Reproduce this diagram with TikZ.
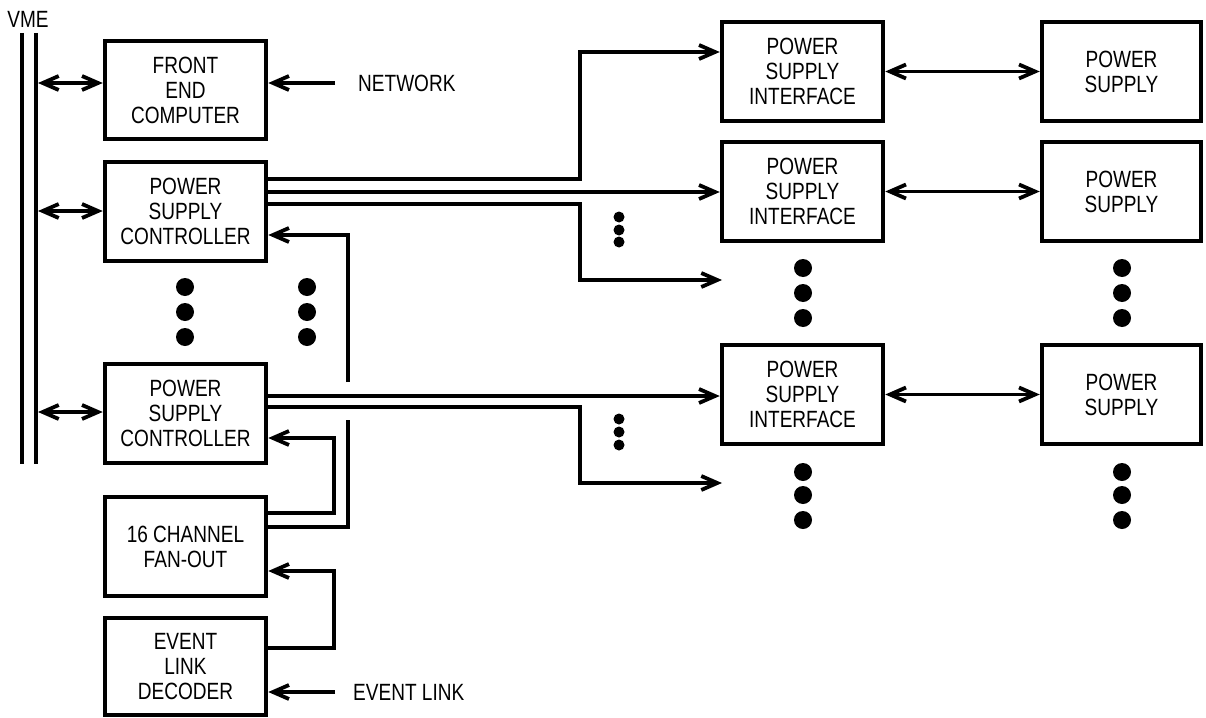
\documentclass[tikz,border=0pt]{standalone}
\usepackage{fontspec}
\setmainfont{Liberation Sans}[FakeStretch=0.81]
\usetikzlibrary{arrows.meta}
\tikzset{
  blk/.style={draw, line width=4.5pt, minimum width=161pt, minimum height=99pt, inner sep=0pt, align=center, font=\fontsize{23.5}{25}\selectfont},
  psblk/.style={blk, minimum width=159pt},
  lbl/.style={inner sep=0pt, anchor=west, font=\fontsize{23.5}{25}\selectfont},
  conn/.style={line width=3.8pt},
  bus/.style={line width=4.5pt},
  bigdot/.style={fill=black, draw=none},
  >={Straight Barb[length=16pt,width=14pt]}
}
\begin{document}
\begin{tikzpicture}[x=1pt,y=-1pt]
\useasboundingbox (0,0) rectangle (1206,717);
% VME bus
\node[lbl, anchor=center] (vme) at (28,19) {VME};
\coordinate (busLt) at (22,33); \coordinate (busLb) at (22,464);
\coordinate (busRt) at (36,33); \coordinate (busRb) at (36,464);
\draw[bus] (busLt) -- (busLb);
\draw[bus] (busRt) -- (busRb);
% left column
\node[blk, minimum height=98pt] (fec) at (185.5,90) {FRONT\\END\\COMPUTER};
\node[blk] (psc1) at (185.5,211.5) {POWER\\SUPPLY\\CONTROLLER};
\node[blk] (psc2) at (185.5,413.5) {POWER\\SUPPLY\\CONTROLLER};
\node[blk] (fan) at (185.5,546.5) {16 CHANNEL\\FAN-OUT};
\node[blk, minimum height=97pt] (eld) at (185.5,666.5) {EVENT\\LINK\\DECODER};
% right columns
\node[blk] (psi1) at (802.5,71.5) {POWER\\SUPPLY\\INTERFACE};
\node[blk] (psi2) at (802.5,191.5) {POWER\\SUPPLY\\INTERFACE};
\node[blk] (psi3) at (802.5,394.5) {POWER\\SUPPLY\\INTERFACE};
\node[psblk] (ps1) at (1121.5,71.5) {POWER\\SUPPLY};
\node[psblk] (ps2) at (1121.5,191.5) {POWER\\SUPPLY};
\node[psblk] (ps3) at (1121.5,394.5) {POWER\\SUPPLY};
% labels
\coordinate (net) at (335,83);
\node[lbl] (netl) at (358,83) {NETWORK};
\coordinate (evl) at (335,692);
\node[lbl] (evll) at (353,692) {EVENT LINK};
% bus arrows
\coordinate (b1) at (38,83);
\coordinate (b2) at (38,211);
\coordinate (b3) at (38,412);
\draw[conn,<->] (b1) -- (b1 -| fec.west);
\draw[conn,<->] (b2) -- (b2 -| psc1.west);
\draw[conn,<->] (b3) -- (b3 -| psc2.west);
\draw[conn,->] (net) -- (net -| fec.east);
\draw[conn,->] (evl) -- (evl -| eld.east);
% PSC1 outputs
\draw[conn,->] (psc1.east |- 0,179) -- (580,179) -- (580,52) -- (psi1.west |- 0,52);
\draw[conn,->] (psc1.east |- 0,192) -- (psi2.west |- 0,192);
\coordinate (o1) at (722,280);
\draw[conn,->] (psc1.east |- 0,204) -- (580,204) -- (580,280) -- (o1);
% PSC2 outputs
\draw[conn,->] (psc2.east |- 0,396) -- (psi3.west |- 0,396);
\coordinate (o2) at (722,483);
\draw[conn,->] (psc2.east |- 0,407) -- (580,407) -- (580,483) -- (o2);
% fan-out feedback
\draw[conn,->] (fan.east |- 0,527) -- (348,527) -- (348,420) (348,382) -- (348,235) -- (psc1.east |- 0,235);
\draw[conn,->] (fan.east |- 0,513) -- (334,513) -- (334,438) -- (psc2.east |- 0,438);
\draw[conn,->] (eld.east |- 0,648) -- (334,648) -- (334,571) -- (fan.east |- 0,571);
% PSI <-> PS
\draw[conn,<->] (psi1.east) -- (ps1.west);
\draw[conn,<->] (psi2.east) -- (ps2.west);
\draw[conn,<->] (psi3.east) -- (ps3.west);
% small dots
\foreach \y in {217,230,242,419,432,445} \fill[bigdot] (619,\y) circle (5.5);
% big dots
\foreach \x in {185,307} \foreach \y in {287,312,337} \fill[bigdot] (\x,\y) circle (9);
\foreach \x in {803,1122} \foreach \y in {268,293,318,472,495,520} \fill[bigdot] (\x,\y) circle (9);
\end{tikzpicture}
\end{document}
